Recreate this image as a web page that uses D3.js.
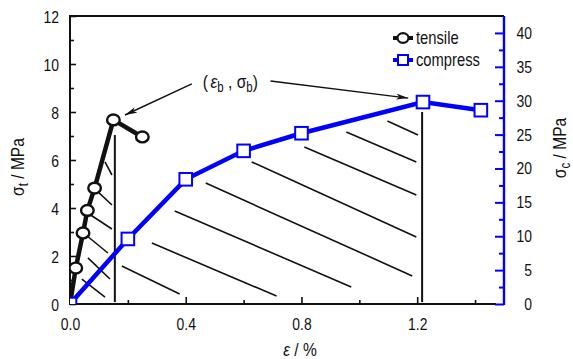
<!DOCTYPE html>
<html>
<head>
<meta charset="utf-8">
<script src="https://cdn.jsdelivr.net/npm/d3@7"></script>
<style>
  html, body { margin: 0; padding: 0; background: #fff; }
  svg { display: block; }
  text { font-family: "Liberation Sans", Arial, sans-serif; fill: #111; }
</style>
</head>
<body>
<div id="chart"></div>
<script>
// tensile test: strain (%) vs stress (MPa, left axis)
const tensileStrain = [0, 0.02, 0.045, 0.06, 0.085, 0.15, 0.25];
const tensileStress = [0, 1.5, 2.96, 3.9, 4.83, 7.67, 6.96];

// compression test: strain (%) vs stress (MPa, right axis)
const compressStrain = [0, 0.2, 0.4, 0.6, 0.8, 1.22, 1.42];
const compressStress = [0, 9.6, 18.4, 22.6, 25.2, 29.8, 28.6];

const xTicks = [0, 0.4, 0.8, 1.2];
const xMinorTicks = [0.2, 0.6, 1.0, 1.4];
const leftTicks = [0, 2, 4, 6, 8, 10, 12];
const leftMinorTicks = [1, 3, 5, 7, 9, 11];
const rightTicks = [0, 5, 10, 15, 20, 25, 30, 35, 40];
const rightMinorTicks = [2.5, 7.5, 12.5, 17.5, 22.5, 27.5, 32.5, 37.5];

// hatch strokes under the curves, [strain, stress(left axis)] pairs
const tensileHatch = [
  [[0.041, 1.04], [0.121, 0.29]],
  [[0.062, 1.92], [0.138, 1.04]],
  [[0.055, 2.875], [0.131, 2.125]],
  [[0.066, 3.75], [0.145, 3.125]],
  [[0.083, 4.83], [0.145, 4.125]],
  [[0.121, 5.92], [0.145, 5.375]],
];
const compressHatch = [
  [[0.179, 1.58], [0.379, 0.42]],
  [[0.283, 2.54], [0.714, 0.33]],
  [[0.362, 3.875], [0.972, 0.71]],
  [[0.469, 5.04], [1.183, 1.17]],
  [[0.628, 5.92], [1.197, 2.79]],
  [[0.81, 6.54], [1.197, 4.54]],
  [[0.955, 7.17], [1.197, 5.92]],
  [[1.097, 7.625], [1.203, 7.04]],
];
// breaking-point drop lines
const breakLines = [
  [[0.155, 7.04], [0.155, 0.08]],
  [[1.217, 8.0], [1.217, 0.08]],
];
// annotation label + arrows (strain, left-axis stress)
const annotAt = [0.459, 9.0];
const annotArrows = [
  [[0.421, 9.17], [0.19, 7.875]],
  [[0.693, 9.29], [1.169, 8.58]],
];

const width = 573, height = 359;
const margin = { top: 16, right: 69, bottom: 55, left: 70 };
const plotW = width - margin.left - margin.right;
const plotH = height - margin.top - margin.bottom;
const blue = '#0000ff';
// the reference uses a narrow Arial; squeeze Liberation Sans horizontally
const narrow = 0.82;

const svg = d3.select('#chart').append('svg')
  .attr('width', width).attr('height', height);

const x = d3.scaleLinear().domain([0, 1.5]).range([margin.left, margin.left + plotW]);
const yL = d3.scaleLinear().domain([0, 12]).range([margin.top + plotH, margin.top]);
const yR = d3.scaleLinear().domain([0, 42.5]).range([margin.top + plotH, margin.top]);

const defs = svg.append('defs');
defs.append('clipPath').attr('id', 'plot-clip')
  .append('rect')
  .attr('x', margin.left).attr('y', margin.top)
  .attr('width', plotW).attr('height', plotH);

defs.append('marker')
  .attr('id', 'arrow')
  .attr('viewBox', '0 0 12 6')
  .attr('refX', 12).attr('refY', 3)
  .attr('markerWidth', 12).attr('markerHeight', 6)
  .attr('markerUnits', 'userSpaceOnUse')
  .attr('orient', 'auto')
  .append('path')
  .attr('d', 'M0,0 L12,3 L0,6 L3,3 Z')
  .attr('fill', '#111');

const segLine = d3.line().x((d) => x(d[0])).y((d) => yL(d[1]));

/* Hatching + drop lines */
const hatch = svg.append('g').attr('class', 'hatch');
hatch.selectAll('path.h')
  .data(tensileHatch.concat(compressHatch))
  .join('path')
  .attr('class', 'h')
  .attr('d', segLine)
  .attr('stroke', '#111')
  .attr('stroke-width', 1.6)
  .attr('fill', 'none');

hatch.selectAll('path.v')
  .data(breakLines)
  .join('path')
  .attr('class', 'v')
  .attr('d', segLine)
  .attr('stroke', '#111')
  .attr('stroke-width', 2)
  .attr('fill', 'none');

/* Axes */
function styleAxis(g, color) {
  g.selectAll('path.domain').remove();
  g.selectAll('line').attr('stroke', color).attr('stroke-width', 1.6);
  g.selectAll('text').attr('font-size', 17).attr('fill', '#111')
    .style('font-family', '"Liberation Sans", Arial, sans-serif');
}

const bottomAxis = svg.append('g')
  .attr('transform', `translate(0,${margin.top + plotH})`)
  .call(d3.axisBottom(x).tickValues(xTicks).tickFormat(d3.format('.1f')).tickSize(-7).tickPadding(14));
styleAxis(bottomAxis, '#111');
svg.append('g')
  .attr('transform', `translate(0,${margin.top + plotH})`)
  .call(d3.axisBottom(x).tickValues(xMinorTicks).tickFormat('').tickSize(-4))
  .call((g) => styleAxis(g, '#111'));

const leftAxis = svg.append('g')
  .attr('transform', `translate(${margin.left},0)`)
  .call(d3.axisLeft(yL).tickValues(leftTicks).tickFormat(d3.format('d')).tickSize(-6).tickPadding(11));
styleAxis(leftAxis, '#111');
leftAxis.selectAll('text').attr('dy', '0.36em');
svg.append('g')
  .attr('transform', `translate(${margin.left},0)`)
  .call(d3.axisLeft(yL).tickValues(leftMinorTicks).tickFormat('').tickSize(-4))
  .call((g) => styleAxis(g, '#111'));

// frame: left, bottom, top in black
svg.append('path')
  .attr('d', `M${margin.left + plotW - 8},${margin.top + plotH} H${margin.left} V${margin.top} H${margin.left + plotW}`)
  .attr('fill', 'none')
  .attr('stroke', '#111')
  .attr('stroke-width', 2);

const rightAxis = svg.append('g')
  .attr('transform', `translate(${margin.left + plotW},0)`)
  .call(d3.axisRight(yR).tickValues(rightTicks).tickSize(-9).tickPadding(0));
styleAxis(rightAxis, blue);
rightAxis.selectAll('line').attr('stroke-width', 2);
rightAxis.selectAll('text').attr('text-anchor', 'end').attr('x', 28);
svg.append('g')
  .attr('transform', `translate(${margin.left + plotW},0)`)
  .call(d3.axisRight(yR).tickValues(rightMinorTicks).tickFormat('').tickSize(-5))
  .call((g) => styleAxis(g, blue))
  .selectAll('line').attr('stroke-width', 2);
svg.append('line')
  .attr('x1', margin.left + plotW).attr('x2', margin.left + plotW)
  .attr('y1', margin.top).attr('y2', margin.top + plotH + 1)
  .attr('stroke', blue).attr('stroke-width', 2.4);

/* Series */
const series = svg.append('g').attr('clip-path', 'url(#plot-clip)');

const tensile = tensileStrain.map((e, i) => ({ e, s: tensileStress[i] }));
const compress = compressStrain.map((e, i) => ({ e, s: compressStress[i] }));

series.append('path')
  .datum(tensile)
  .attr('d', d3.line().x((d) => x(d.e)).y((d) => yL(d.s)))
  .attr('fill', 'none')
  .attr('stroke', '#111')
  .attr('stroke-width', 4.5)
  .attr('stroke-linejoin', 'round');

series.selectAll('ellipse.tensile')
  .data(tensile.slice(1))
  .join('ellipse')
  .attr('class', 'tensile')
  .attr('cx', (d) => x(d.e))
  .attr('cy', (d) => yL(d.s))
  .attr('rx', 6.3)
  .attr('ry', 5.4)
  .attr('fill', '#fff')
  .attr('stroke', '#111')
  .attr('stroke-width', 2.4);

series.append('path')
  .datum(compress)
  .attr('d', d3.line().x((d) => x(d.e)).y((d) => yR(d.s)))
  .attr('fill', 'none')
  .attr('stroke', blue)
  .attr('stroke-width', 4.5);

series.selectAll('rect.compress')
  .data(compress)
  .join('rect')
  .attr('class', 'compress')
  .attr('x', (d) => x(d.e) - 6.3)
  .attr('y', (d) => yR(d.s) - 6.3)
  .attr('width', 12.6)
  .attr('height', 12.6)
  .attr('fill', '#fff')
  .attr('stroke', blue)
  .attr('stroke-width', 2);

/* Annotation */
svg.selectAll('path.arrow')
  .data(annotArrows)
  .join('path')
  .attr('class', 'arrow')
  .attr('d', segLine)
  .attr('stroke', '#111')
  .attr('stroke-width', 1.4)
  .attr('fill', 'none')
  .attr('marker-end', 'url(#arrow)');

const annot = svg.append('text')
  .attr('x', x(annotAt[0]))
  .attr('y', yL(annotAt[1]))
  .attr('font-size', 19);
annot.append('tspan').text('(');
annot.append('tspan').attr('font-style', 'italic').attr('dx', 3).text('ε');
annot.append('tspan').attr('font-size', 14).attr('dy', 4).text('b');
annot.append('tspan').attr('dy', -4).text(' , ');
annot.append('tspan').text('σ');
annot.append('tspan').attr('font-size', 14).attr('dy', 4).text('b');
annot.append('tspan').attr('dy', -4).text(')');

/* Axis titles */
const xTitle = svg.append('text')
  .attr('x', 300).attr('y', 356)
  .attr('text-anchor', 'middle')
  .attr('font-size', 19);
xTitle.append('tspan').attr('font-style', 'italic').text('ε');
xTitle.append('tspan').text(' / %');

const yLTitle = svg.append('text')
  .attr('transform', `translate(24,${margin.top + plotH / 2 + 7}) rotate(-90)`)
  .attr('text-anchor', 'middle')
  .attr('font-size', 19);
yLTitle.append('tspan').text('σ');
yLTitle.append('tspan').attr('font-size', 14).attr('dy', 4).text('t');
yLTitle.append('tspan').attr('dy', -4).text('  / MPa');

const yRTitle = svg.append('text')
  .attr('transform', `translate(566,${margin.top + plotH / 2 - 12}) rotate(-90)`)
  .attr('text-anchor', 'middle')
  .attr('font-size', 19);
yRTitle.append('tspan').text('σ');
yRTitle.append('tspan').attr('font-size', 14).attr('dy', 4).text('c');
yRTitle.append('tspan').attr('dy', -4).text('  / MPa');

/* Legend */
const legendItems = [
  { label: 'tensile', color: '#111', shape: 'ellipse' },
  { label: 'compress', color: blue, shape: 'rect' },
];
const legend = svg.append('g').attr('transform', 'translate(393,38)');
legend.selectAll('g.item')
  .data(legendItems)
  .join('g')
  .attr('class', 'item')
  .attr('transform', (_, i) => `translate(0,${i * 22})`)
  .each(function (d) {
    const g = d3.select(this);
    g.append('line')
      .attr('x1', 0).attr('x2', 20)
      .attr('stroke', d.color).attr('stroke-width', 4);
    if (d.shape === 'ellipse') {
      g.append('ellipse')
        .attr('cx', 10).attr('rx', 5.5).attr('ry', 4.8)
        .attr('fill', '#fff').attr('stroke', d.color).attr('stroke-width', 2.2);
    } else {
      g.append('rect')
        .attr('x', 5).attr('y', -5).attr('width', 10).attr('height', 10)
        .attr('fill', '#fff').attr('stroke', d.color).attr('stroke-width', 2);
    }
    g.append('text')
      .attr('x', 23).attr('y', 6)
      .attr('font-size', 18)
      .text(d.label);
  });

/* Condense every label to mimic the narrow face */
svg.selectAll('text').each(function () {
  const t = d3.select(this);
  const tx = +t.attr('x') || 0;
  const ty = +t.attr('y') || 0;
  const pre = t.attr('transform') || '';
  t.attr('x', null).attr('y', null)
    .attr('transform', `${pre} translate(${tx},${ty}) scale(${narrow},1)`);
});
</script>
</body>
</html>
